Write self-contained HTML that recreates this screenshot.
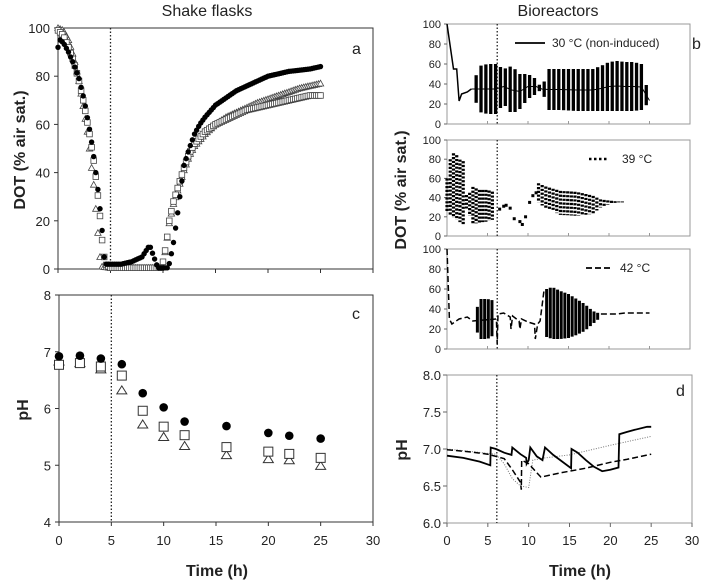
<!DOCTYPE html>
<html><head><meta charset="utf-8"><style>
html,body{margin:0;padding:0;background:#fff;}
svg{display:block;font-family:"Liberation Sans",sans-serif;}
</style></head><body>
<svg id="fig" width="708" height="581" viewBox="0 0 708 581"></svg>
<script>
// ---- Panel a data (Shake flasks DOT) ----
const aCircT=[0,0.2,0.5,1,1.5,2,2.5,3,3.3,3.6,3.8,4,4.2,4.4,4.6,5,5.5,6,6.5,7,7.5,8,8.3,8.6,8.8,9.5,10,10.5,10.7,11,11.3,11.6,12,12.5,13,13.5,14,15,16,17,18,19,20,21,22,23,24,25];
const aCircV=[92,95,94,90,85,79,70,58,50,40,33,25,16,5,2,2,2,2,2.5,3,4,5,7,9,9,0.5,0.5,0.5,4,11,20,30,43,50,56,60,63,68,71,74,76,78,80,81,82,82.5,83,84];
const aSqT=[0,0.5,1,1.5,2,2.5,3,3.4,3.7,3.9,4.1,4.2,4.4,4.5,5,6,7,8,9,9.9,10,10.3,10.6,11,11.5,12,12.5,13,14,15,16,17,18,19,20,21,22,23,24,25];
const aSqV=[99,97,92,86,78,68,56,45,35,26,18,12,5,2,0.5,0.5,0.5,0.5,0.5,0.5,3,10,20,28,35,42,48,52,57,60,62,64,66,67,68,69,70,71,72,72];
const aTriT=[0,0.5,1,1.5,2,2.5,2.8,3,3.2,3.4,3.6,3.8,4,4.2,5,6,7,8,9,10,10.3,10.6,11,11.5,12,12.5,13,14,15,16,17,18,19,20,21,22,23,24,25];
const aTriV=[100,99,95,88,78,65,57,50,42,35,25,15,5,1,0.5,0.5,0.5,0.5,0.5,1,10,19,27,34,41,47,51,56,60,63,65,67,69,70.5,72,73.5,75,76,77];
// ---- Panel c data (Shake flasks pH) ----
const cT=[0,2,4,6,8,10,12,16,20,22,25];
const cCirc=[6.92,6.93,6.88,6.78,6.27,6.02,5.77,5.69,5.57,5.52,5.47];
const cSq=[6.77,6.80,6.74,6.58,5.96,5.68,5.53,5.32,5.24,5.2,5.13];
const cTri=[6.82,6.79,6.68,6.31,5.71,5.49,5.33,5.17,5.1,5.08,4.98];
// ---- Panel b data (Bioreactor DOT) ----
const b1LineT=[0,0.8,1.2,1.5,1.8,2.5,3];
const b1LineV=[100,55,55,23,30,32,35];
const b1EnvT=[3,4,5,6,7,8,9,10,11,11.7,12.5,14,16,18,19,20,21,22,23,24,25];
const b1Up=[35,58,60,60,55,58,50,50,45,35,55,55,55,55,58,62,63,62,62,60,25];
const b1Lo=[35,12,10,10,20,10,15,25,30,35,14,14,13,13,13,13,13,13,13,14,22];
const b2EnvT=[0,0.5,1,1.5,2,2.3,2.6,3,4,5,6,6.3,11.3,12,14,16,18,19,20,21,22];
const b2Up=[60,85,87,80,78,45,38,52,48,48,45,30,55,52,47,46,42,38,37,36,36];
const b2Lo=[25,20,18,15,12,28,30,12,14,15,18,28,35,30,22,21,23,30,33,35,35];
const b2ScatT=[6.5,7,7.3,7.8,8.3,9,9.3,9.7,10.2,10.6,11];
const b2ScatV=[28,31,32,29,18,15,12,20,35,42,45];
const b3LineT=[0,0.3,0.6,1.5,2.5,3.2,6.1,6.2,6.3,7,7.8,7.9,8.1,8.9,9,9.2,10,10.8,10.9,11.2,11.5,12];
const b3LineV=[100,30,25,30,32,28,30,5,35,36,32,20,33,28,20,30,27,25,10,25,28,60];
const b3EnvT=[3.3,4,5,6,12.3,13,14,15,16,17,18,19,20,21,22,25];
const b3Up=[28,50,50,48,60,62,58,55,50,45,38,35,35,35,36,36];
const b3Lo=[28,10,10,15,12,10,10,11,14,18,25,32,35,35,35,36];
// ---- Panel d data (Bioreactor pH) ----
const dSolidT=[0,2,4,5.3,5.35,6,7,7.9,8,9,9.7,9.75,10,10.2,11,11.7,12,13,15.2,15.25,16,17,18,19,20,21,21.1,22,23,24.5,25];
const dSolidV=[6.91,6.88,6.83,6.78,7.02,7.0,6.95,6.92,7.02,6.93,6.88,6.8,6.85,7.02,6.9,6.85,7.02,6.92,6.74,7.0,6.95,6.85,6.76,6.7,6.72,6.75,7.2,7.23,7.26,7.3,7.3];
const dDashT=[0,3,5,6,7,8,9,9.1,9.15,10,11,11.5,14,17,20,22,25];
const dDashV=[6.99,6.96,6.93,6.9,6.87,6.72,6.55,6.45,6.85,6.8,6.68,6.62,6.68,6.74,6.82,6.86,6.93];
const dDotT=[0,6,7,8,9,10,10.5,12,15,20,25];
const dDotV=[7.0,6.93,6.8,6.6,6.5,6.48,6.85,6.88,6.92,7.05,7.17];

const NS="http://www.w3.org/2000/svg";
const svg=document.getElementById('fig');
function el(tag,attrs,parent){const e=document.createElementNS(NS,tag);for(const k in attrs)e.setAttribute(k,attrs[k]);(parent||svg).appendChild(e);return e;}
function txt(s,x,y,size,anchor,weight,parent,rot){const t=el('text',{x:x,y:y,'font-size':size,'text-anchor':anchor||'start','font-weight':weight||'normal',fill:'#222'},parent);if(rot)t.setAttribute('transform','rotate(-90 '+x+' '+y+')');t.textContent=s;return t;}
function scale(d0,d1,r0,r1){return v=>r0+(v-d0)/(d1-d0)*(r1-r0);}
function pathFrom(ts,vs,X,Y){return ts.map((t,i)=>(i?'L':'M')+X(t).toFixed(1)+' '+Y(vs[i]).toFixed(1)).join(' ');}
function interp(ts,vs,t){if(t<=ts[0])return vs[0];for(let i=1;i<ts.length;i++){if(t<=ts[i]){const f=(t-ts[i-1])/(ts[i]-ts[i-1]);return vs[i-1]+f*(vs[i]-vs[i-1]);}}return vs[vs.length-1];}

let t=txt('Shake flasks',207,16,16,'middle');

t=txt('Bioreactors',558,16,16,'middle');


// ---- Panel a ----
const aX=scale(0,30,58,373), aY=scale(0,100,269,28);
let g=el('g',{});
el('path',{d:'M58 28 H373 V269 H58 Z',fill:'none',stroke:'#333','stroke-width':1},g);
[0,20,40,60,80,100].forEach(v=>{el('line',{x1:54,x2:58,y1:aY(v),y2:aY(v),stroke:'#333'},g);const l=txt(String(v),50,aY(v)+5,13,'end','normal',g);});
[0,5,10,15,20,25,30].forEach(v=>el('line',{x1:aX(v),x2:aX(v),y1:269,y2:273,stroke:'#333'},g));
el('line',{x1:aX(5),x2:aX(5),y1:28,y2:269,stroke:'#222','stroke-dasharray':'1.5 2','stroke-width':1.3},g);
t=txt('DOT (% air sat.)',25,150,16,'middle','bold',g,true);
t=txt('a',352,54,16,'start','normal',g);
function dense(ts,vs,step){const out=[];for(let x=ts[0];x<=ts[ts.length-1]+1e-6;x+=step)out.push([x,interp(ts,vs,x)]);return out;}
function tri(cx,cy,r,g){el('path',{d:`M${cx} ${cy-r} L${cx+r} ${cy+r*0.8} L${cx-r} ${cy+r*0.8} Z`,fill:'#fff',stroke:'#444','stroke-width':0.8},g);}
dense(aTriT,aTriV,0.2).forEach(p=>tri(aX(p[0]),aY(p[1]),3.2,g));
dense(aSqT,aSqV,0.2).forEach(p=>el('rect',{x:aX(p[0])-2.8,y:aY(p[1])-2.8,width:5.6,height:5.6,fill:'#fff',stroke:'#444','stroke-width':0.8},g));
dense(aCircT,aCircV,0.2).forEach(p=>el('circle',{cx:aX(p[0]),cy:aY(p[1]),r:2.7,fill:'#000'},g));

// ---- Panel c ----
const cX=scale(0,30,59,373), cY=scale(4,8,522,295);
g=el('g',{});
el('path',{d:'M59 295 H373 V522 H59 Z',fill:'none',stroke:'#333','stroke-width':1},g);
[4,5,6,7,8].forEach(v=>{el('line',{x1:55,x2:59,y1:cY(v),y2:cY(v),stroke:'#333'},g);const l=txt(String(v),51,cY(v)+5,13,'end','normal',g);});
[0,5,10,15,20,25,30].forEach(v=>{el('line',{x1:cX(v),x2:cX(v),y1:522,y2:526,stroke:'#333'},g);const l=txt(String(v),cX(v),545,13,'middle','normal',g);});
el('line',{x1:cX(5),x2:cX(5),y1:295,y2:522,stroke:'#222','stroke-dasharray':'1.5 2','stroke-width':1.3},g);
t=txt('pH',28,410,16,'middle','bold',g,true);
t=txt('Time (h)',217,576,16,'middle','bold',g);
t=txt('c',352,319,16,'start','normal',g);
cT.forEach((tt,i)=>{
 const p1=el('path',{d:`M${cX(tt)} ${cY(cTri[i])-5} l5 8 h-10 Z`,fill:'#fff',stroke:'#333','stroke-width':1},g);
 const p2=el('rect',{x:cX(tt)-4.5,y:cY(cSq[i])-4.5,width:9,height:9,fill:'#fff',stroke:'#333','stroke-width':1},g);
 const p3=el('circle',{cx:cX(tt),cy:cY(cCirc[i]),r:4.3,fill:'#000'},g);
});

// ---- Panel b subplots ----
const bX=scale(0,30,447,690);
function bAxes(top,bot,name){
 const gg=el('g',{});
 el('rect',{x:447,y:top,width:243,height:bot-top,fill:'none',stroke:'#999','stroke-width':1},gg);
 const Y=scale(0,100,bot,top);
 [0,20,40,60,80,100].forEach(v=>{el('line',{x1:444,x2:447,y1:Y(v),y2:Y(v),stroke:'#666'},gg);const l=txt(String(v),441,Y(v)+4,11,'end','normal',gg);});
 [5,10,15,20,25].forEach(v=>el('line',{x1:bX(v),x2:bX(v),y1:bot,y2:bot-3,stroke:'#999'},gg));
 el('line',{x1:bX(6.2),x2:bX(6.2),y1:top,y2:bot,stroke:'#222','stroke-dasharray':'1.5 2','stroke-width':1.3},gg);
 return [gg,Y];
}
function bars(gg,Y,ts,up,lo,period,w,dot){
 for(let x=ts[0];x<=ts[ts.length-1];x+=period){
  const u=interp(ts,up,x),l=interp(ts,lo,x);
  const ln=el('line',{x1:bX(x),x2:bX(x),y1:Y(u),y2:Y(l),stroke:'#000','stroke-width':w},gg);
  if(dot){ln.setAttribute('stroke-dasharray','2.2 1.6');}
 }
}
let r=bAxes(24,124,'panel-b-30c');let gb=r[0],Yb=r[1];
el('path',{d:pathFrom(b1LineT,b1LineV,bX,Yb),fill:'none',stroke:'#000','stroke-width':1.5},gb);
el('path',{d:pathFrom(b1EnvT,b1EnvT.map((x,i)=>(b1Up[i]+b1Lo[i])/2),bX,Yb),fill:'none',stroke:'#000','stroke-width':1},gb);
bars(gb,Yb,b1EnvT,b1Up,b1Lo,0.6,3.3);
el('line',{x1:515,x2:545,y1:43,y2:43,stroke:'#000','stroke-width':1.8},gb);
t=txt('30 °C (non-induced)',552,47,12,'start','normal',gb);
t=txt('b',692,49,16,'start','normal',gb);
t=txt('DOT (% air sat.)',406,190,16,'middle','bold',gb,true);

r=bAxes(140,236,'panel-b-39c');gb=r[0];Yb=r[1];
bars(gb,Yb,b2EnvT.slice(0,11),b2Up.slice(0,11),b2Lo.slice(0,11),0.4,3.2,true);
bars(gb,Yb,b2EnvT.slice(12),b2Up.slice(12),b2Lo.slice(12),0.45,3.2,true);
b2ScatT.forEach((x,i)=>el('rect',{x:bX(x)-1.5,y:Yb(b2ScatV[i])-1.5,width:3,height:3,fill:'#000'},gb));
el('line',{x1:589,x2:609,y1:159,y2:159,stroke:'#000','stroke-width':2.5,'stroke-dasharray':'2.5 2.5'},gb);
t=txt('39 °C',622,163,12,'start','normal',gb);

r=bAxes(249,349,'panel-b-42c');gb=r[0];Yb=r[1];
el('path',{d:pathFrom(b3LineT,b3LineV,bX,Yb),fill:'none',stroke:'#000','stroke-width':1.5,'stroke-dasharray':'6 3'},gb);
el('path',{d:pathFrom(b3EnvT.slice(11),b3Up.slice(11),bX,Yb),fill:'none',stroke:'#000','stroke-width':1.5,'stroke-dasharray':'6 3'},gb);
bars(gb,Yb,b3EnvT.slice(0,4),b3Up.slice(0,4),b3Lo.slice(0,4),0.45,3);
bars(gb,Yb,b3EnvT.slice(4,12),b3Up.slice(4,12),b3Lo.slice(4,12),0.45,3);
el('line',{x1:586,x2:612,y1:268,y2:268,stroke:'#000','stroke-width':1.8,'stroke-dasharray':'6 3'},gb);
t=txt('42 °C',620,272,12,'start','normal',gb);

// ---- Panel d ----
const dX=scale(0,30,447,692), dY=scale(6,8,523,375);
g=el('g',{});
el('path',{d:'M447 375 H692 V523 H447 Z',fill:'none',stroke:'#999','stroke-width':1},g);
[6,6.5,7,7.5,8].forEach(v=>{el('line',{x1:443,x2:447,y1:dY(v),y2:dY(v),stroke:'#666'},g);const l=txt(v.toFixed(1),441,dY(v)+5,13,'end','normal',g);});
[0,5,10,15,20,25,30].forEach(v=>{el('line',{x1:dX(v),x2:dX(v),y1:523,y2:527,stroke:'#666'},g);const l=txt(String(v),dX(v),545,13,'middle','normal',g);});
el('line',{x1:dX(6.1),x2:dX(6.1),y1:375,y2:523,stroke:'#222','stroke-dasharray':'1.5 2','stroke-width':1.3},g);
el('path',{d:pathFrom(dDotT,dDotV,dX,dY),fill:'none',stroke:'#777','stroke-width':1,'stroke-dasharray':'1 1.5'},g);
el('path',{d:pathFrom(dDashT,dDashV,dX,dY),fill:'none',stroke:'#000','stroke-width':1.5,'stroke-dasharray':'6 3'},g);
el('path',{d:pathFrom(dSolidT,dSolidV,dX,dY),fill:'none',stroke:'#000','stroke-width':1.8},g);
t=txt('pH',407,450,16,'middle','bold',g,true);
t=txt('Time (h)',580,576,16,'middle','bold',g);
t=txt('d',676,396,16,'start','normal',g);
</script>
</body></html>
